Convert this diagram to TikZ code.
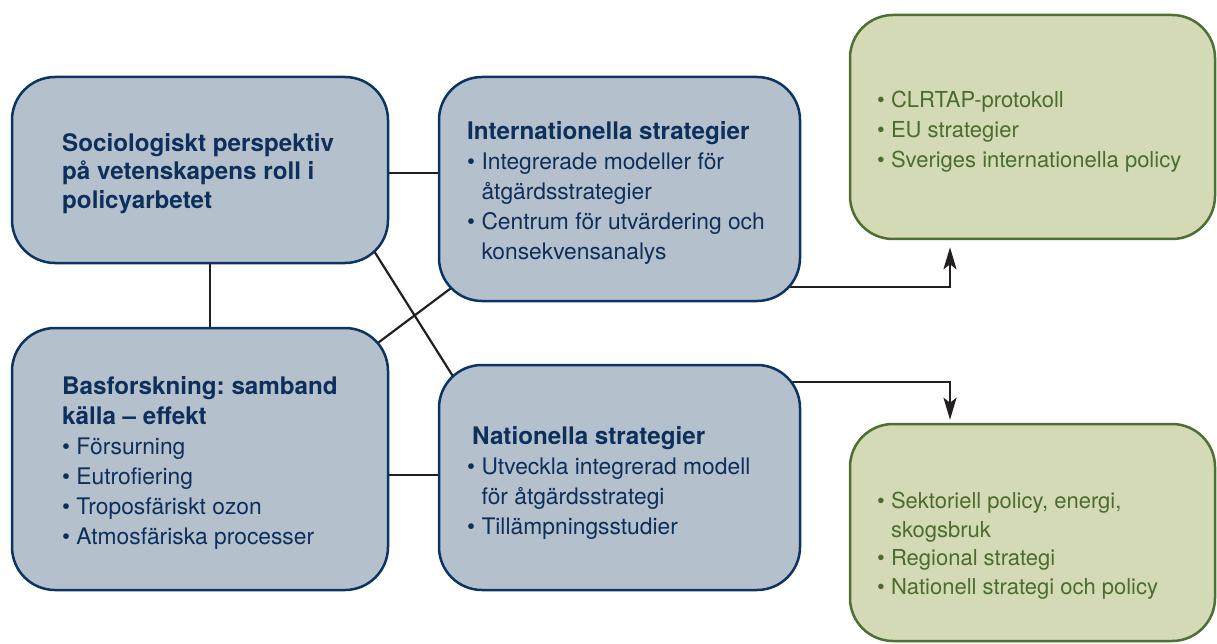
\documentclass[tikz,border=0pt]{standalone}
\usepackage{fontspec}
\setmainfont{TeX Gyre Heros}
\usetikzlibrary{arrows.meta,backgrounds}

\definecolor{blufill}{HTML}{B4C0CC}
\definecolor{bluline}{HTML}{0C3462}
\definecolor{blutxt}{HTML}{0D2F5B}
\definecolor{grnfill}{HTML}{D4D9B6}
\definecolor{grnline}{HTML}{4B702F}
\definecolor{grntxt}{HTML}{4A6D2E}
\definecolor{linkcol}{HTML}{231F20}

\frenchspacing
\newcommand{\hd}[1]{{\fontsize{24.2}{30}\selectfont\bfseries #1}}
\newcommand{\itm}{\textbullet\ }
\newcommand{\ind}{\phantom{\textbullet\ }}

\begin{document}
\begin{tikzpicture}[x=1pt, y=1pt,
    blubox/.style={draw=bluline, fill=blufill, line width=2.5pt, rounded corners=43pt},
    grnbox/.style={draw=grnline, fill=grnfill, line width=2.5pt, rounded corners=43pt},
    boxtext/.style={anchor=north west, align=left, font=\fontsize{22.8}{30}\selectfont},
    link/.style={draw=linkcol, line width=2.2pt},
    arr/.style={link, -{Stealth[length=22pt, width=13pt, inset=5pt]}}]
  \tikzstyle{every node}+=[inner sep=0pt]
  \useasboundingbox (0,0) rectangle (1217,-644);
  % boxes
  \node [blubox, minimum width=376pt, minimum height=186pt] (socio) at (200,-170) {};
  \node [blubox, minimum width=376pt, minimum height=262pt] (basf) at (200,-459) {};
  \node [blubox, minimum width=361pt, minimum height=224pt] (intstr) at (619.5,-189) {};
  \node [blubox, minimum width=361pt, minimum height=225pt] (natstr) at (619.5,-477.5) {};
  \node [grnbox, minimum width=365pt, minimum height=224pt] (intpol) at (1032.5,-127) {};
  \node [grnbox, minimum width=365pt, minimum height=217pt] (natpol) at (1032.5,-532.5) {};
  % texts
  \node [boxtext, text=blutxt, font=\fontsize{22.8}{28.5}\selectfont] (socioT) at (62,-133)
    {\hd{Sociologiskt perspektiv}\\\hd{på vetenskapens roll i}\\\hd{policyarbetet}};
  \node [boxtext, text=blutxt] (basfT) at (62,-376)
    {\hd{Basforskning: samband}\\\hd{källa – effekt}\\\itm Försurning\\\itm Eutrofiering\\
     \itm Troposfäriskt ozon\\\itm Atmosfäriska processer};
  \node [boxtext, text=blutxt] (intstrT) at (467,-121)
    {\hd{Internationella strategier}\\\itm Integrerade modeller för\\\ind åtgärdsstrategier\\
     \itm Centrum för utvärdering och\\\ind konsekvensanalys};
  \node [boxtext, text=blutxt] (natstrT) at (467,-426)
    {\hspace*{5pt}\hd{Nationella strategier}\\\itm Utveckla integrerad modell\\
     \ind för åtgärdsstrategi\\\itm Tillämpningsstudier};
  \node [boxtext, text=grntxt, font=\fontsize{22}{30}\selectfont] (intpolT) at (877,-91)
    {\itm CLRTAP-protokoll\\\itm EU strategier\\\itm Sveriges internationella policy};
  \node [boxtext, text=grntxt, font=\fontsize{22}{28.5}\selectfont] (natpolT) at (877,-492)
    {\itm Sektoriell policy, energi,\\\ind skogsbruk\\\itm Regional strategi\\
     \itm Nationell strategi och policy};
  % connectors, behind the boxes
  \begin{pgfonlayer}{background}
    \draw [link] (socio.east |- 0,-173) -- (intstr.west |- 0,-173);
    \draw [link] (socio.south -| 210,0) -- (basf.north -| 210,0);
    \draw [link] (basf.east |- 0,-475) -- (natstr.west |- 0,-475);
    \draw [link] ([shift={(-17pt,16pt)}]socio.south east) -- ([shift={(18pt,-17pt)}]natstr.north west);
    \draw [link] ([shift={(-12.5pt,-17pt)}]basf.north east) -- ([shift={(14.5pt,15pt)}]intstr.south west);
    \draw [arr, shorten >=7pt] (intstr.south |- 0,-287) -| (intpol.south -| 950,0);
    \draw [arr, shorten >=3pt] (natstr.south |- 0,-382) -| (natpol.north -| 950,0);
  \end{pgfonlayer}
\end{tikzpicture}
\end{document}
